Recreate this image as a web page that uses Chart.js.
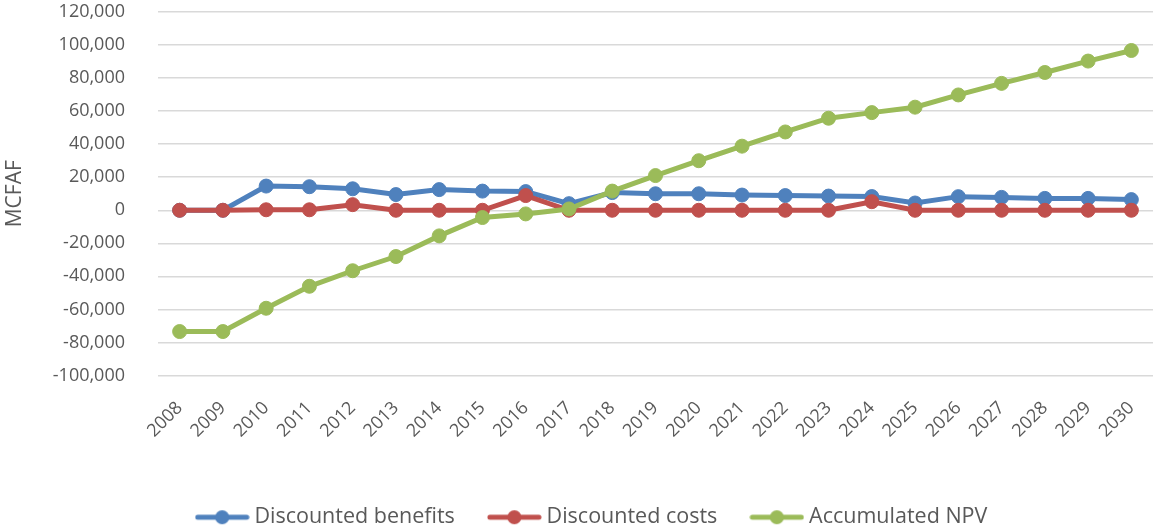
<!DOCTYPE html>
<html>
<head>
<meta charset="utf-8">
<title>Discounted benefits, costs and accumulated NPV</title>
<script src="https://cdn.jsdelivr.net/npm/chart.js@4/dist/chart.umd.min.js"></script>
<style>
    html, body { margin: 0; padding: 0; background: #fff; overflow: hidden; }
    #wrap { width: 1161px; height: 530px; }
</style>
</head>
<body>
<div id="wrap"><canvas id="npvChart" width="1161" height="530"></canvas></div>
<script>
// Chart data
const years = ['2008', '2009', '2010', '2011', '2012', '2013', '2014', '2015', '2016', '2017', '2018', '2019',
    '2020', '2021', '2022', '2023', '2024', '2025', '2026', '2027', '2028', '2029', '2030'];
const discountedBenefits = [0, 0, 14650, 14270, 13000, 9500, 12500, 11600, 11300, 4000, 10700, 10000,
    10000, 9200, 8900, 8600, 8300, 4400, 8250, 7800, 7200, 7200, 6450];
const discountedCosts = [0, 0, 300, 300, 3400, 0, 0, 0, 8900, 0, 0, 0,
    0, 0, 0, 0, 5200, 0, 0, 0, 0, 0, 0];
const accumulatedNPV = [-73400, -73400, -59300, -46000, -36600, -28000, -15500, -4400, -2200, 800, 11600, 21000,
    30000, 38800, 47400, 55700, 59100, 62400, 69800, 76800, 83400, 90300, 96700];
const yTicks = { min: -100000, max: 120000, step: 20000 };

const BLUE = '#4f81bd';
const RED = '#c0504d';
const GREEN = '#9bbb59';
const TEXT = '#595959';
const FONT = "'Open Sans', sans-serif";

// Legend marker: a short thick line with a dot in the middle
function legendMarker(color) {
    const c = document.createElement('canvas');
    c.width = 55;
    c.height = 16;
    const g = c.getContext('2d');
    g.strokeStyle = color;
    g.lineWidth = 5;
    g.lineCap = 'round';
    g.beginPath();
    g.moveTo(3, 8);
    g.lineTo(52, 8);
    g.stroke();
    g.fillStyle = color;
    g.beginPath();
    g.arc(27.5, 8, 7, 0, Math.PI * 2);
    g.fill();
    return c;
}

function series(label, data, color, order) {
    return {
        label: label,
        data: data,
        borderColor: color,
        backgroundColor: color,
        borderWidth: 5,
        pointRadius: 7,
        pointBorderWidth: 1,
        pointBorderColor: color,
        pointBackgroundColor: color,
        tension: 0,
        order: order
    };
}

// Nudge the legend a bit lower and to the right after layout
const legendNudge = {
    id: 'legendNudge',
    afterLayout(chart) {
        const l = chart.legend;
        if (!l) return;
        l.top += 8;
        l.bottom += 8;
        l.left += 14;
        l.right += 14;
    }
};

const ctx = document.getElementById('npvChart').getContext('2d');

new Chart(ctx, {
    type: 'line',
    data: {
        labels: years,
        datasets: [
            series('Discounted benefits', discountedBenefits, BLUE, 3),
            series('Discounted costs', discountedCosts, RED, 2),
            series('Accumulated NPV', accumulatedNPV, GREEN, 1)
        ]
    },
    options: {
        responsive: false,
        animation: false,
        layout: {
            padding: { top: 12, right: 1, bottom: 0, left: 0 }
        },
        scales: {
            x: {
                offset: true,
                grid: { display: false, drawTicks: false },
                border: { display: false },
                ticks: {
                    color: TEXT,
                    font: { family: FONT, size: 18 },
                    minRotation: 45,
                    maxRotation: 45,
                    autoSkip: false,
                    padding: 22
                },
                afterFit(scale) {
                    // fixed axis height; rotated labels should not shrink the plot sideways
                    scale.height = 85;
                    scale.paddingLeft = 0;
                    scale.paddingRight = 0;
                }
            },
            y: {
                min: yTicks.min,
                max: yTicks.max,
                grid: { color: '#d9d9d9', lineWidth: 1.5, drawTicks: false },
                border: { display: false },
                ticks: {
                    stepSize: yTicks.step,
                    color: TEXT,
                    font: { family: FONT, size: 18 },
                    padding: 33,
                    callback: v => v.toLocaleString('en-US')
                },
                title: {
                    display: true,
                    text: 'MCFAF',
                    color: TEXT,
                    font: { family: FONT, size: 21 },
                    padding: { top: 2, bottom: 0 }
                },
                afterFit(scale) {
                    // fixed axis width; the tick padding should not push the plot down
                    scale.width = 158;
                    scale.paddingTop = 0;
                    scale.paddingBottom = 0;
                }
            }
        },
        plugins: {
            tooltip: { enabled: false },
            legend: {
                position: 'bottom',
                labels: {
                    usePointStyle: true,
                    pointStyleWidth: 43,
                    padding: 38,
                    color: TEXT,
                    font: { family: FONT, size: 21.5 },
                    generateLabels(chart) {
                        return chart.data.datasets.map((ds, i) => ({
                            text: ds.label,
                            fillStyle: ds.borderColor,
                            strokeStyle: ds.borderColor,
                            lineWidth: 0,
                            fontColor: TEXT,
                            pointStyle: legendMarker(ds.borderColor),
                            hidden: false,
                            datasetIndex: i
                        }));
                    }
                }
            }
        }
    },
    plugins: [legendNudge]
});
</script>
</body>
</html>
